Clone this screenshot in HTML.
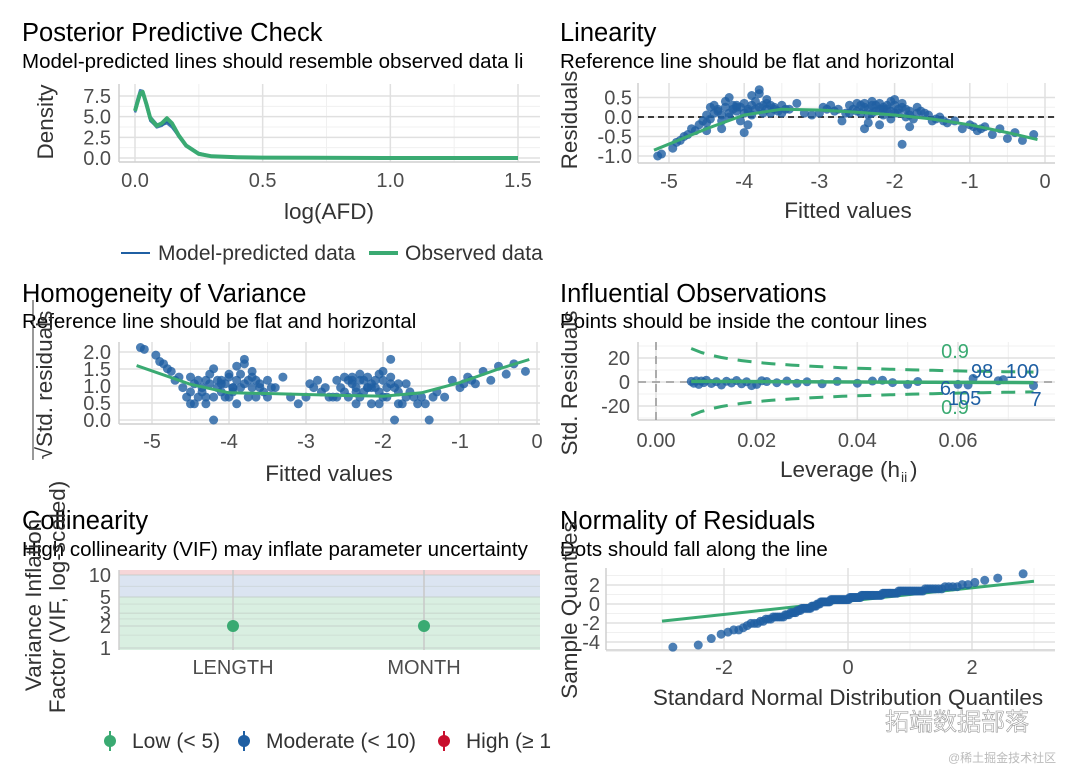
<!DOCTYPE html>
<html><head><meta charset="utf-8"><style>
body{margin:0;background:#fff}
svg{display:block;font-family:"Liberation Sans","Noto Sans CJK SC",sans-serif}
.t{font-size:25.5px;fill:#000}.s{font-size:20.5px;fill:#000}.k{font-size:20px;fill:#4d4d4d}.a{font-size:22.5px;fill:#333}.l{font-size:21px;fill:#333}
</style></head><body>
<svg id="c" width="1080" height="771" viewBox="0 0 1080 771"></svg>
<script>
// ---- data ----
const dens_x=[0,0.01,0.02,0.03,0.045,0.06,0.085,0.105,0.125,0.145,0.17,0.2,0.25,0.3,0.4,0.5,0.7,1.0,1.5];
const dens_obs=[5.7,6.8,7.8,8.0,6.5,4.8,3.9,4.2,4.8,4.2,2.8,1.5,0.5,0.2,0.1,0.05,0.02,0,0];
const dens_m1=[6.0,7.2,8.2,8.1,6.3,4.5,3.8,4.0,4.4,3.9,2.6,1.4,0.5,0.2,0.08,0.04,0.02,0,0];
const dens_m2=[5.5,6.6,7.6,7.7,6.6,5.0,4.1,4.0,4.2,3.7,2.7,1.6,0.6,0.22,0.08,0.04,0.01,0,0];
const dens_m3=[5.9,7.0,7.9,7.8,6.2,4.6,3.7,3.9,4.5,4.1,2.9,1.5,0.55,0.2,0.1,0.05,0.02,0,0];
const fitted=[-5.15,-5.1,-4.95,-4.85,-4.8,-4.7,-4.6,-4.55,-4.5,-4.45,-4.4,-4.35,-4.3,-4.25,-4.2,-4.15,-4.1,-4.05,-4.0,-3.95,-3.9,-3.85,-3.8,-3.75,-3.7,-3.65,-3.6,-3.55,-3.5,-3.4,-3.3,-3.2,-3.1,-3.0,-2.9,-2.8,-2.7,-2.6,-2.5,-2.45,-2.4,-2.35,-2.3,-2.25,-2.2,-2.15,-2.1,-2.05,-2.0,-1.95,-1.9,-1.85,-1.8,-1.75,-1.7,-1.6,-1.5,-1.4,-1.3,-1.2,-1.1,-1.0,-0.9,-0.8,-0.7,-0.6,-0.5,-0.4,-0.3,-0.15,-4.3,-4.0,-3.8,-2.4,-2.2,-2.0,-1.9,-3.9,-4.2,-2.3,-4.35,-4.1,-3.95,-2.6,-2.35,-2.15,-2.05,-1.8,-4.5,-3.7,
-4.9,-4.75,-4.65,-4.5,-4.45,-4.4,-4.3,-4.25,-4.2,-4.15,-4.1,-4.05,-4.0,-3.95,-3.9,-3.85,-3.8,-3.75,-3.7,-3.65,-3.6,-3.5,-3.45,-2.95,-2.85,-2.75,-2.65,-2.55,-2.5,-2.45,-2.4,-2.35,-2.3,-2.25,-2.2,-2.15,-2.1,-2.05,-2.0,-1.95,-1.9,-1.85,-1.8,-1.7,-1.65,-1.55,-1.45,-1.35,-0.95,-0.85];
const resid=[-1.0,-0.95,-0.8,-0.6,-0.5,-0.3,-0.2,-0.1,0.05,-0.05,0.1,0.2,-0.1,0.25,0.0,0.3,0.15,-0.1,0.35,0.2,0.05,0.4,0.6,0.3,0.2,0.1,0.25,0.15,0.3,0.2,0.35,0.1,0.05,0.1,0.2,0.15,-0.1,0.3,0.35,0.1,0.25,0.05,0.4,0.15,0.2,0.05,0.3,-0.05,0.1,0.2,0.35,0.0,0.15,-0.05,0.25,0.1,-0.1,0.0,-0.15,-0.1,-0.3,-0.2,-0.35,-0.25,-0.45,-0.3,-0.55,-0.4,-0.6,-0.45,-0.3,-0.4,0.7,-0.3,-0.2,0.45,-0.7,0.55,0.5,0.3,0.15,0.25,-0.2,0.1,-0.15,0.2,0.4,-0.25,-0.35,0.45,
-0.65,-0.45,-0.35,-0.15,0.25,0.3,0.05,0.4,0.1,0.2,0.3,0.25,0.1,0.15,0.3,0.2,0.25,0.1,0.35,0.3,0.2,0.1,0.2,0.25,0.3,0.2,0.1,0.2,0.15,0.3,0.35,0.2,0.1,0.3,0.35,0.25,0.2,0.15,0.3,0.1,0.25,0.2,0.05,0.1,0.15,0.05,-0.05,-0.1,-0.25,-0.3];
const smooth_x=[-5.2,-4.5,-4,-3.5,-3,-2.5,-2,-1.5,-1,-0.5,-0.1];
const smooth_res=[-0.85,-0.3,0.05,0.2,0.18,0.12,0.05,-0.05,-0.2,-0.4,-0.58];
const smooth_scale=[1.6,1.05,0.8,0.78,0.75,0.72,0.7,0.8,1.1,1.5,1.78];
const leverage=[0.007,0.0075,0.008,0.0085,0.009,0.0095,0.01,0.011,0.012,0.013,0.014,0.015,0.016,0.017,0.018,0.019,0.02,0.021,0.022,0.024,0.026,0.028,0.03,0.033,0.036,0.04,0.043,0.045,0.047,0.05,0.052,0.06,0.062,0.063,0.068,0.069,0.075];
const stdres=[0.5,-1,1,-2,0.8,-0.5,1.5,-1.2,0.3,-2.5,0.6,-0.8,1.2,-1.5,0.2,-3,-2,1,0.4,-0.6,0.8,-1,0.2,-1.5,0.5,-1,0.8,1.5,-0.5,-2,0.4,-2,-2.5,3,1,2,-3];
const lev_labels=["98","100","6","105","7"];
const lev_lab_x=[0.0648,0.0728,0.0575,0.0613,0.0755];
const lev_lab_y=[8.5,8.5,-6,-14,-15];
const cook_level=[0.9];
const vif_terms=["LENGTH","MONTH"];
const vif_vals=[2.0,2.0];
const qq_line_x=[-3,3];
const qq_line_y=[-1.8,2.4];
// ---- helpers ----
const svg=document.getElementById('c');const NS='http://www.w3.org/2000/svg';
function E(tag,at,parent,name,txt){const e=document.createElementNS(NS,tag);for(const k in at)e.setAttribute(k,at[k]);if(txt!==undefined)e.textContent=txt;


(parent||svg).appendChild(e);return e;}
function lin(d0,d1,r0,r1){return v=>r0+(v-d0)*(r1-r0)/(d1-d0);}
function grid(x0,x1,y0,y1,xs,ys,xm,ym){E('rect',{x:x0,y:y0,width:x1-x0,height:y1-y0,fill:'#fff'},null,'plot-area');
(xm||[]).forEach(v=>E('line',{x1:v,x2:v,y1:y0,y2:y1,stroke:'#f0f0f0','stroke-width':1},null,'minor-grid'));
(ym||[]).forEach(v=>E('line',{x1:x0,x2:x1,y1:v,y2:v,stroke:'#f0f0f0','stroke-width':1},null,'minor-grid'));
xs.forEach(v=>E('line',{x1:v,x2:v,y1:y0,y2:y1,stroke:'#e0e0e0','stroke-width':1.5},null,'major-grid'));
ys.forEach(v=>E('line',{x1:x0,x2:x1,y1:v,y2:v,stroke:'#e0e0e0','stroke-width':1.5},null,'major-grid'));
E('line',{x1:x0,x2:x0,y1:y0,y2:y1,stroke:'#cfcfcf','stroke-width':1.5},null,'y-axis-line');
E('line',{x1:x0,x2:x1,y1:y1,y2:y1,stroke:'#cfcfcf','stroke-width':1.5},null,'x-axis-line');}
function txt(x,y,s,cls,name,anchor,rot){const a={x:x,y:y,class:cls,'text-anchor':anchor||'start'};if(rot)a.transform=`rotate(-90 ${x} ${y})`;return E('text',a,null,name,s);}
function path(xs,ys,sx,sy,st,name){let d='';xs.forEach((v,i)=>d+=(i?'L':'M')+sx(v).toFixed(1)+','+sy(ys[i]).toFixed(1));return E('path',Object.assign({d:d,fill:'none','stroke-linejoin':'round'},st),null,name);}
const BLUE='#1f5fa3',GREEN='#3aaa72';
// ---- Panel 1 ----
txt(22,41,'Posterior Predictive Check','t','ppc-title');
txt(22,68,'Model-predicted lines should resemble observed data li','s','ppc-subtitle');
{const sx=lin(0,1.5,135,518),sy=lin(0,7.5,158,96);
grid(119,540,84,162,[0,0.5,1,1.5].map(sx),[0,2.5,5,7.5].map(sy),[0.25,0.75,1.25].map(sx),[1.25,3.75,6.25].map(sy));
[[0,'0.0'],[0.5,'0.5'],[1,'1.0'],[1.5,'1.5']].forEach(t=>txt(sx(t[0]),187,t[1],'k','x-tick','middle'));
[[0,'0.0'],[2.5,'2.5'],[5,'5.0'],[7.5,'7.5']].forEach(t=>txt(111,sy(t[0])+7,t[1],'k','y-tick','end'));
[dens_m1,dens_m2,dens_m3].forEach(m=>path(dens_x,m,sx,sy,{stroke:BLUE,'stroke-width':2.5,opacity:0.8},'model-density-line'));
path(dens_x,dens_obs,sx,sy,{stroke:GREEN,'stroke-width':4},'observed-density-line');
txt(329,219,'log(AFD)','a','x-axis-title','middle');txt(53,122,'Density','a','y-axis-title','middle',1);
E('line',{x1:121,x2:150,y1:253,y2:253,stroke:BLUE,'stroke-width':2},null,'legend-model-key');
txt(158,260,'Model-predicted data','l','legend-model-label');
E('line',{x1:369,x2:398,y1:253,y2:253,stroke:GREEN,'stroke-width':4},null,'legend-observed-key');
txt(405,260,'Observed data','l','legend-observed-label');}
// ---- Panel 2 ----
txt(560,41,'Linearity','t','linearity-title');
txt(560,68,'Reference line should be flat and horizontal','s','linearity-subtitle');
{const sx=lin(-5,0,669,1045),sy=lin(0,-1,117,156);
grid(638,1055,83,163,[-5,-4,-3,-2,-1,0].map(sx),[0.5,0,-0.5,-1].map(sy),[-4.5,-3.5,-2.5,-1.5,-0.5].map(sx),[0.25,-0.25,-0.75].map(sy));
[-5,-4,-3,-2,-1,0].forEach(v=>txt(sx(v),188,String(v),'k','x-tick','middle'));
[[0.5,'0.5'],[0,'0.0'],[-0.5,'-0.5'],[-1,'-1.0']].forEach(t=>txt(632,sy(t[0])+7,t[1],'k','y-tick','end'));
E('line',{x1:638,x2:1055,y1:sy(0),y2:sy(0),stroke:'#000','stroke-width':1.5,'stroke-dasharray':'6,4'},null,'zero-reference-line');
fitted.forEach((f,i)=>E('circle',{cx:sx(f),cy:sy(resid[i]),r:4.5,fill:BLUE,opacity:0.8},null,'residual-point'));
path(smooth_x,smooth_res,sx,sy,{stroke:GREEN,'stroke-width':3},'loess-line');
txt(848,218,'Fitted values','a','x-axis-title','middle');txt(577,120,'Residuals','a','y-axis-title','middle',1);}
// ---- Panel 3 ----
txt(22,302,'Homogeneity of Variance','t','homogeneity-title');
txt(22,328,'Reference line should be flat and horizontal','s','homogeneity-subtitle');
{const sx=lin(-5,0,152,537),sy=lin(0,2,420,352);
grid(119,540,342,424,[-5,-4,-3,-2,-1,0].map(sx),[0,0.5,1,1.5,2].map(sy),[-4.5,-3.5,-2.5,-1.5,-0.5].map(sx),[]);
[-5,-4,-3,-2,-1,0].forEach(v=>txt(sx(v),448,String(v),'k','x-tick','middle'));
[[0,'0.0'],[0.5,'0.5'],[1,'1.0'],[1.5,'1.5'],[2,'2.0']].forEach(t=>txt(111,sy(t[0])+7,t[1],'k','y-tick','end'));
fitted.forEach((f,i)=>E('circle',{cx:sx(f),cy:sy(Math.sqrt(Math.abs(resid[i])/0.22)),r:4.5,fill:BLUE,opacity:0.8},null,'scale-location-point'));
path(smooth_x,smooth_scale,sx,sy,{stroke:GREEN,'stroke-width':3},'loess-line');
txt(329,481,'Fitted values','a','x-axis-title','middle');txt(52,385,'√Std. residuals','a','y-axis-title','middle',1);
E('line',{x1:33,x2:33,y1:300,y2:460,stroke:'#333','stroke-width':1},null,'sqrt-overline');}
// ---- Panel 4 ----
txt(560,302,'Influential Observations','t','influence-title');
txt(560,328,'Points should be inside the contour lines','s','influence-subtitle');
{const sx=lin(0,0.06,656,958),sy=lin(0,20,382,358);
grid(638,1055,342,420,[0,0.02,0.04,0.06].map(sx),[-20,0,20].map(sy),[0.01,0.03,0.05,0.07].map(sx),[-30,-10,10,30].map(sy));
[[0,'0.00'],[0.02,'0.02'],[0.04,'0.04'],[0.06,'0.06']].forEach(t=>txt(sx(t[0]),447,t[1],'k','x-tick','middle'));
[[20,'20'],[0,'0'],[-20,'-20']].forEach(t=>txt(630,sy(t[0])+7,t[1],'k','y-tick','end'));
E('line',{x1:sx(0),x2:sx(0),y1:342,y2:420,stroke:'#888','stroke-width':1.3,'stroke-dasharray':'8,6'},null,'zero-leverage-line');
E('line',{x1:638,x2:1055,y1:sy(0),y2:sy(0),stroke:'#888','stroke-width':1.3,'stroke-dasharray':'8,6'},null,'zero-residual-line');
cook_level.forEach(c=>{const hs=[],up=[],dn=[];for(let h=0.007;h<=0.0761;h+=0.002){hs.push(h);const v=Math.sqrt(c*6.1*(1-h)/h);up.push(v);dn.push(-v);}
path(hs,up,sx,sy,{stroke:GREEN,'stroke-width':3,'stroke-dasharray':'14,10'},'cook-contour-upper');
path(hs,dn,sx,sy,{stroke:GREEN,'stroke-width':3,'stroke-dasharray':'14,10'},'cook-contour-lower');
txt(955,358,String(c),'k','cook-label-upper','middle').setAttribute('style','fill:'+GREEN);
txt(955,414,String(c),'k','cook-label-lower','middle').setAttribute('style','fill:'+GREEN);});
leverage.forEach((h,i)=>E('circle',{cx:sx(h),cy:sy(stdres[i]),r:4.5,fill:BLUE,opacity:0.8},null,'leverage-point'));
E('line',{x1:sx(0.007),x2:sx(0.075),y1:sy(0.5),y2:sy(-0.5),stroke:GREEN,'stroke-width':3.5},null,'loess-line');
lev_labels.forEach((l,i)=>txt(sx(lev_lab_x[i]),sy(lev_lab_y[i])+6,l,'k','point-label','middle').setAttribute('style','fill:'+BLUE));
txt(840,477,'Leverage (h','a','x-axis-title','middle');
txt(901,482,'ii','k','x-axis-subscript').setAttribute('style','font-size:14px;fill:#333');
txt(910,477,')','a','x-axis-paren');
txt(577,383,'Std. Residuals','a','y-axis-title','middle',1);}
// ---- Panel 5 ----
txt(22,529,'Collinearity','t','collinearity-title');
txt(22,556,'High collinearity (VIF) may inflate parameter uncertainty','s','collinearity-subtitle');
{const ly=lin(0,1,648,575),sy=v=>ly(Math.log10(v)),sx=lin(0,1,233,424);
E('rect',{x:119,y:570,width:421,height:sy(10)-570,fill:'#f6d6d8'},null,'high-vif-band');
E('rect',{x:119,y:sy(10),width:421,height:sy(5)-sy(10),fill:'#dbe4f1'},null,'moderate-vif-band');
E('rect',{x:119,y:sy(5),width:421,height:650-sy(5),fill:'#d9efe1'},null,'low-vif-band');
[1,2,3,5,10].forEach(v=>E('line',{x1:119,x2:540,y1:sy(v),y2:sy(v),stroke:'#bfc8c2','stroke-width':1.2,opacity:0.6},null,'y-grid'));
[1.5,2.5,4,7].forEach(v=>E('line',{x1:119,x2:540,y1:sy(v),y2:sy(v),stroke:'#bfc8c2','stroke-width':0.8,opacity:0.5},null,'y-minor-grid'));
E('line',{x1:119,x2:119,y1:570,y2:650,stroke:'#cfcfcf','stroke-width':1.5},null,'y-axis-line');
vif_terms.forEach((t,i)=>{E('line',{x1:sx(i),x2:sx(i),y1:570,y2:650,stroke:'#c8c8c8','stroke-width':1.5},null,'x-grid');
txt(sx(i),674,t,'k','x-tick','middle');
E('circle',{cx:sx(i),cy:sy(vif_vals[i]),r:6,fill:GREEN},null,'vif-point-'+t.toLowerCase());});
[[10,'10'],[5,'5'],[3,'3'],[2,'2'],[1,'1']].forEach(t=>txt(111,sy(t[0])+7,t[1],'k','y-tick','end'));
txt(41,605,'Variance Inflation','a','y-axis-title-line1','middle',1);
txt(65,597,'Factor (VIF, log-scaled)','a','y-axis-title-line2','middle',1);
[[110,GREEN,'Low (< 5)'],[244,BLUE,'Moderate (< 10)'],[444,'#c8102e','High (≥ 1']].forEach(l=>{
E('line',{x1:l[0],x2:l[0],y1:731,y2:751,stroke:l[1],'stroke-width':2},null,'legend-key-bar');
E('circle',{cx:l[0],cy:741,r:6,fill:l[1]},null,'legend-key-point');
txt(l[0]+22,748,l[2],'l','legend-label');});}
// ---- Panel 6 ----
txt(560,529,'Normality of Residuals','t','normality-title');
txt(560,556,'Dots should fall along the line','s','normality-subtitle');
{const sx=lin(0,2,848,972),sy=lin(0,2,604,585);
grid(606,1055,568,650,[-2,0,2].map(sx),[-4,-2,0,2].map(sy),[-3,-1,1,3].map(sx),[-5,-3,-1,1,3].map(sy));
[-2,0,2].forEach(v=>txt(sx(v),674,String(v),'k','x-tick','middle'));
[2,0,-2,-4].forEach(v=>txt(600,sy(v)+7,String(v),'k','y-tick','end'));
function qn(p){const a=[-39.6968,220.946,-275.929,138.358,-30.6648,2.50663],b=[-54.4761,161.586,-155.699,66.8013,-13.2806],c=[-0.00778489,-0.322396,-2.40076,-2.54973,4.37466,2.93816],d=[0.00778470,0.322467,2.44513,3.75441];
if(p<0.02425){const q=Math.sqrt(-2*Math.log(p));return(((((c[0]*q+c[1])*q+c[2])*q+c[3])*q+c[4])*q+c[5])/((((d[0]*q+d[1])*q+d[2])*q+d[3])*q+1);}
if(p>1-0.02425)return -qn(1-p);const q=p-0.5,r=q*q;return(((((a[0]*r+a[1])*r+a[2])*r+a[3])*r+a[4])*r+a[5])*q/(((((b[0]*r+b[1])*r+b[2])*r+b[3])*r+b[4])*r+1);}
const srt=resid.map(r=>r/0.22).sort((a,b)=>a-b),n=srt.length;
path(qq_line_x,qq_line_y,sx,sy,{stroke:GREEN,'stroke-width':3},'qq-reference-line');
srt.forEach((v,i)=>E('circle',{cx:sx(qn((i+0.5)/n)*1.05),cy:sy(v),r:4.5,fill:BLUE,opacity:0.8},null,'qq-point'));
txt(848,705,'Standard Normal Distribution Quantiles','a','x-axis-title','middle');
txt(577,610,'Sample Quantiles','a','y-axis-title','middle',1);}
// watermark
txt(885,730,'拓端数据部落','a','watermark-title').setAttribute('style','font-size:24px;fill:#fff;stroke:#999;stroke-width:0.6');
txt(948,762,'@稀土掘金技术社区','k','watermark-subtitle').setAttribute('style','font-size:12px;fill:#bbb');
</script></body></html>
